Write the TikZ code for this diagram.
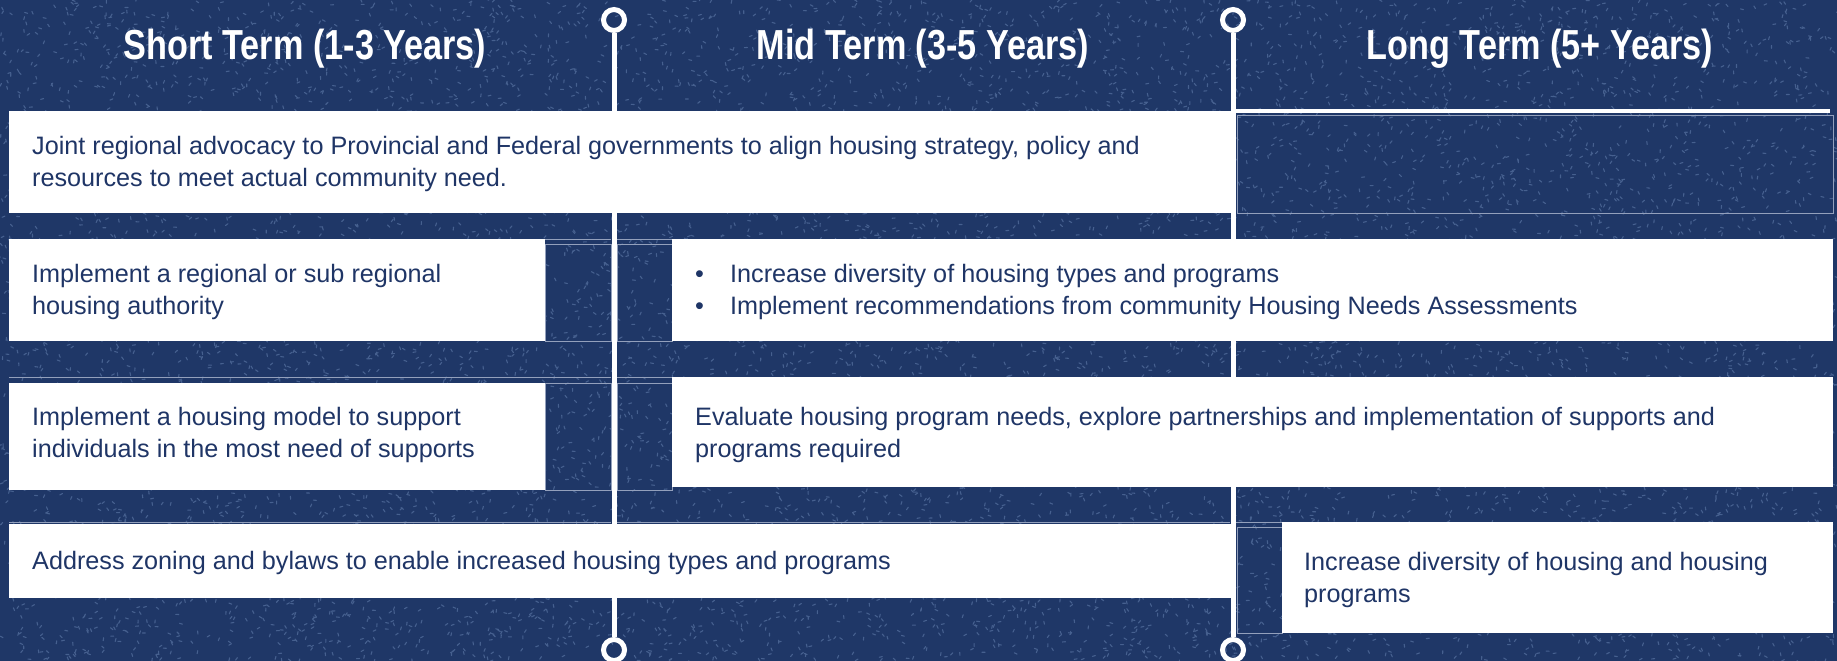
\documentclass[tikz,border=0pt]{standalone}
\usepackage{fontspec}
\setmainfont{Liberation Sans}
\newfontfamily\headfont[FakeStretch=0.815]{Liberation Sans}
\definecolor{navy}{HTML}{1F3767}
\definecolor{speck}{HTML}{46608F}
\definecolor{rim}{HTML}{93A0BC}
\definecolor{ink}{HTML}{1F3566}
\tikzset{
  card/.style={fill=white},
  body/.style={inner sep=0pt, anchor=west, align=left, text=ink,
    font=\fontsize{25.2}{32}\selectfont},
  slot/.style={draw=rim, line width=1pt},
  seam/.style={draw=rim, line width=1pt},
  rail/.style={draw=white, line width=5pt},
  pin/.style={draw=white, line width=5pt, circle, minimum size=21pt, inner sep=0pt},
  head/.style={text=white, inner sep=0pt, font=\headfont\bfseries\fontsize{42}{48}\selectfont}
}
\begin{document}
\begin{tikzpicture}[x=1pt,y=-1pt]
\useasboundingbox (0,0) rectangle (1837,661);
% textured navy ground
\fill[navy] (0,0) rectangle (1837,661);
\pgfmathsetseed{7}
\foreach \i in {1,...,10000}{
  \pgfmathsetmacro\px{rnd*1837}
  \pgfmathsetmacro\py{rnd*661}
  \pgfmathsetmacro\pa{rnd*360}
  \draw[speck, line width=1.1pt, line cap=round] (\px,\py) -- ++(\pa:3);
}

% column headings
\node[head] (h1) at (305,49) {Short Term (1-3 Years)};
\node[head] (h2) at (923,49) {Mid Term (3-5 Years)};
\node[head] (h3) at (1540,49) {Long Term (5+ Years)};

% time rails with end pins
\node[pin] (t1) at (614,20) {};
\node[pin] (e1) at (614,650) {};
\node[pin] (t2) at (1233,20) {};
\node[pin] (e2) at (1233,650) {};
\draw[rail] (t1.south) -- (e1.north);
\draw[rail] (t2.south) -- (e2.north);
\coordinate (r1) at (1233,111);
\coordinate (r2) at (1830,111);
\draw[white, line width=4pt] (r1) -- (r2);

% faint row seams
\draw[seam] (9,239) -- (611,239) (617,239) -- (1230,239) (1236,239) -- (1833,239);
\draw[seam] (9,377) -- (611,377) (617,377) -- (1230,377) (1236,377) -- (1833,377);
\draw[seam] (9,522) -- (611,522) (617,522) -- (1230,522) (1236,522) -- (1833,522);

% empty slots
\draw[slot] (1237,115) rectangle (1833,213);
\draw[slot] (545,244) rectangle (611,341);
\draw[slot] (617,244) rectangle (672,341);
\draw[slot] (545,383) rectangle (611,490);
\draw[slot] (617,383) rectangle (672,490);
\draw[slot] (1237,527) rectangle (1282,633);

% cards
\fill[card] (9,111) rectangle (1231,213);
\fill[card] (9,239) rectangle (545,341);
\fill[card] (672,239) rectangle (1833,341);
\fill[card] (9,383) rectangle (545,490);
\fill[card] (672,377) rectangle (1833,487);
\fill[card] (9,524) rectangle (1231,598);
\fill[card] (1282,522) rectangle (1833,633);

% card texts
\node[body] (a1) at (32,164.3)
  {Joint regional advocacy to Provincial and Federal governments to align housing strategy, policy and\\resources to meet actual community need.};
\node[body] (b1) at (32,292.3)
  {Implement a regional or sub regional\\housing authority};
\node[body] (b2) at (695,292.3)
  {\makebox[35pt][l]{\textbullet}Increase diversity of housing types and programs\\\makebox[35pt][l]{\textbullet}Implement recommendations from community Housing Needs Assessments};
\node[body] (c1) at (32,435.3)
  {Implement a housing model to support\\individuals in the most need of supports};
\node[body] (c2) at (695,435.3)
  {Evaluate housing program needs, explore partnerships and implementation of supports and\\programs required};
\node[body] (d1) at (32,563.3)
  {Address zoning and bylaws to enable increased housing types and programs};
\node[body] (d2) at (1304,579.8)
  {Increase diversity of housing and housing\\programs};
\end{tikzpicture}
\end{document}
